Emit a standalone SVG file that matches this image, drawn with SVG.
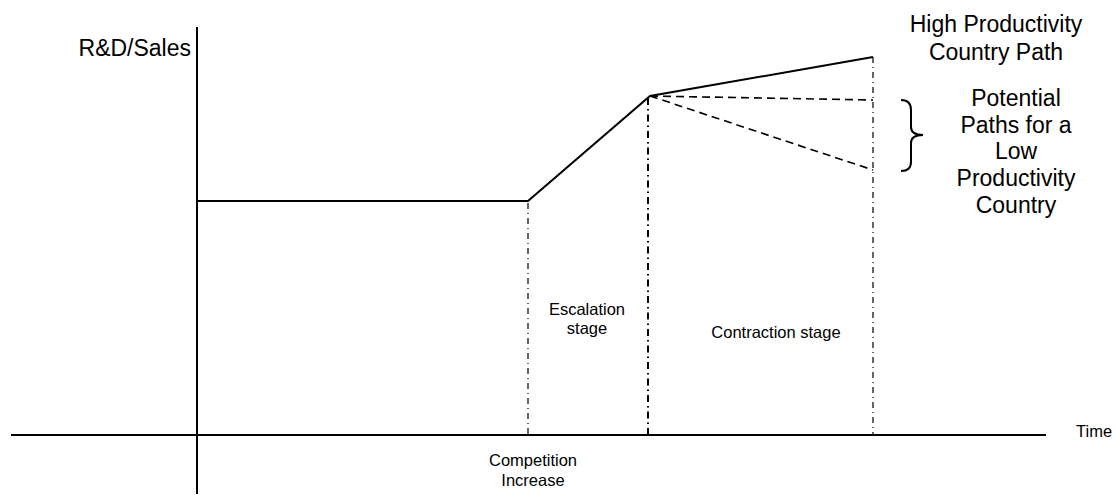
<svg xmlns="http://www.w3.org/2000/svg" width="1115" height="495" viewBox="0 0 1115 495">
<style>
.t{font-family:"Liberation Sans",Arial,sans-serif;fill:#000}
.big{font-size:23px}
.sm{font-size:16.5px}
.solid{stroke:#000;stroke-width:2;fill:none}
.dash{stroke:#000;stroke-width:1.6;fill:none;stroke-dasharray:8 5}
.dd{stroke:#000;stroke-width:1.2;fill:none;stroke-dasharray:6 4 1 4}
.ddb{stroke:#000;stroke-width:2;fill:none;stroke-dasharray:7 4 1.5 4}
</style>
<rect width="1115" height="495" fill="#fff"/>
<g id="axes">
<line class="solid" x1="197" y1="27" x2="197" y2="494"/>
<line class="solid" x1="11" y1="435" x2="1046" y2="435"/>
</g>
<g id="connectors">
<polyline class="solid" points="197,201 528,201 650,96 873,57"/>
<line class="dash" x1="650" y1="96" x2="873" y2="100"/>
<line class="dash" x1="650" y1="96" x2="873" y2="170"/>
<line class="dd" x1="528" y1="203" x2="528" y2="434"/>
<line class="ddb" x1="648" y1="98" x2="648" y2="434"/>
<line class="dd" x1="873" y1="57" x2="873" y2="434"/>
<path class="solid" stroke-width="1.6" d="M901,100 Q911,100 911,110 L911,127 Q911,135 923,135 Q911,135 911,143 L911,162 Q911,171 901,171"/>
</g>
<g id="labels">
<text class="t big" x="191" y="56" text-anchor="end">R&amp;D/Sales</text>
<text class="t sm" x="1076" y="437">Time</text>
<text class="t big" text-anchor="middle"><tspan x="996" y="32">High Productivity</tspan><tspan x="996" y="60">Country Path</tspan></text>
<text class="t big" text-anchor="middle"><tspan x="1016" y="106">Potential</tspan><tspan x="1016" y="133">Paths for a</tspan><tspan x="1016" y="159">Low</tspan><tspan x="1016" y="186">Productivity</tspan><tspan x="1016" y="213">Country</tspan></text>
<text class="t sm" text-anchor="middle"><tspan x="587" y="315">Escalation</tspan><tspan x="587" y="334">stage</tspan></text>
<text class="t sm" x="776" y="338" text-anchor="middle">Contraction stage</text>
<text class="t sm" text-anchor="middle"><tspan x="533" y="466">Competition</tspan><tspan x="533" y="486">Increase</tspan></text>
</g>
</svg>
